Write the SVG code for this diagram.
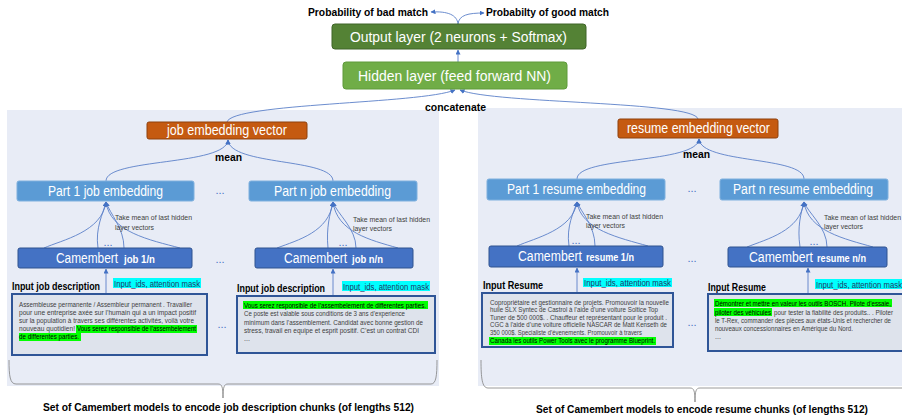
<svg xmlns="http://www.w3.org/2000/svg" width="902" height="420" viewBox="0 0 902 420">
<style>
text{font-family:"Liberation Sans",Arial,sans-serif}
.panel{fill:#e8ecf6}
.out{fill:#548235;stroke:#3f6428;stroke-width:1}
.hid{fill:#70ad47;stroke:#5e9a3a;stroke-width:1}
.vec{fill:#c55a11;stroke:#8f400c;stroke-width:1}
.part{fill:#5b9bd5;stroke:#7fb0de;stroke-width:1}
.cam{fill:#4472c4;stroke:#2f528f;stroke-width:1}
.inbox{fill:#dee3ec;stroke:#2f5597;stroke-width:2}
.wt{fill:#fff;font-size:14px}
.wb{fill:#fff;font-size:10px;font-weight:bold}
.lbl{fill:#000;font-size:10.5px;font-weight:bold}
.sm{fill:#404040;font-size:7px}
.bx{fill:#404040;font-size:7px}
.bk{fill:#000;font-size:7px}
.cy{fill:#00ffff}
.gr{fill:#00ff00}
.cyt{fill:#1f3864;font-size:9px}
.dots{fill:#4472c4;font-size:11px}
.con{fill:none;stroke:#5b80c8;stroke-width:0.9}
.brace{fill:none;stroke:#808080;stroke-width:0.8}
</style>
<defs>
<marker id="ah" viewBox="0 0 10 10" refX="9" refY="5" markerWidth="5" markerHeight="5" orient="auto" markerUnits="userSpaceOnUse">
<path d="M0,0 L10,5 L0,10 z" fill="#4472c4"/>
</marker>
</defs>

<g id="panels">
<rect class="panel" x="7" y="110" width="432" height="276"/>
<rect class="panel" x="478" y="108" width="424" height="278"/>
</g>

<g id="connectors">
<path class="con" d="M458,24 C457,15 448,11 431,12" marker-end="url(#ah)"/>
<path class="con" d="M458,24 C459,15 468,13 484,13" marker-end="url(#ah)"/>
<path class="con" d="M458,62 L458,50" marker-end="url(#ah)"/>
<path class="con" d="M227,122 C232,103 420,104 455,90" marker-end="url(#ah)"/>
<path class="con" d="M698,119 C694,101 495,104 460,90" marker-end="url(#ah)"/>
<path class="con" d="M106,181 C106,158 226,166 228,140" marker-end="url(#ah)"/>
<path class="con" d="M333,181 C333,158 230,166 228,140" marker-end="url(#ah)"/>
<path class="con" d="M577,179 C577,156 697,164 699,139" marker-end="url(#ah)"/>
<path class="con" d="M804,179 C804,156 701,164 699,139" marker-end="url(#ah)"/>
<path class="con" d="M44,248 C62,240 102,232 106,202" marker-end="url(#ah)"/>
<path class="con" d="M98,248 C95,228 103,214 106,202" marker-end="url(#ah)"/>
<path class="con" d="M124,248 C124,228 110,214 106,202" marker-end="url(#ah)"/>
<path class="con" d="M180,248 C150,240 110,232 106,202" marker-end="url(#ah)"/>
<path class="con" d="M277,248 C298,240 329,232 333,202" marker-end="url(#ah)"/>
<path class="con" d="M328,248 C326,228 330,214 333,202" marker-end="url(#ah)"/>
<path class="con" d="M356,248 C356,228 337,214 333,202" marker-end="url(#ah)"/>
<path class="con" d="M398,248 C370,240 337,232 333,202" marker-end="url(#ah)"/>
<path class="con" d="M517,246 C535,238 573,230 577,202" marker-end="url(#ah)"/>
<path class="con" d="M569,246 C566,226 574,212 577,202" marker-end="url(#ah)"/>
<path class="con" d="M595,246 C595,226 581,212 577,202" marker-end="url(#ah)"/>
<path class="con" d="M648,246 C620,238 581,230 577,202" marker-end="url(#ah)"/>
<path class="con" d="M747,247 C767,239 800,231 804,202" marker-end="url(#ah)"/>
<path class="con" d="M800,247 C797,227 801,213 804,202" marker-end="url(#ah)"/>
<path class="con" d="M827,247 C827,227 808,213 804,202" marker-end="url(#ah)"/>
<path class="con" d="M873,247 C845,239 808,231 804,202" marker-end="url(#ah)"/>
<path class="con" d="M106,294 L106,269" marker-end="url(#ah)"/>
<path class="con" d="M333,296 L333,269" marker-end="url(#ah)"/>
<path class="con" d="M577,293 L577,268" marker-end="url(#ah)"/>
<path class="con" d="M808,294 L808,268" marker-end="url(#ah)"/>
</g>

<g id="labels-top">
<text class="lbl" x="308" y="15.5" textLength="120" lengthAdjust="spacingAndGlyphs">Probability of bad match</text>
<text class="lbl" x="486" y="15.5" textLength="123" lengthAdjust="spacingAndGlyphs">Probabilty of good match</text>
<text class="lbl" x="425" y="111" textLength="61" lengthAdjust="spacingAndGlyphs">concatenate</text>
<text class="lbl" x="215" y="161" textLength="27" lengthAdjust="spacingAndGlyphs">mean</text>
<text class="lbl" x="683" y="158" textLength="27" lengthAdjust="spacingAndGlyphs">mean</text>
</g>

<g id="output-layer">
<rect class="out" x="332" y="24" width="254" height="25" rx="3"/>
<text class="wt" x="350" y="41.5" textLength="217" lengthAdjust="spacingAndGlyphs">Output layer (2 neurons + Softmax)</text>
</g>
<g id="hidden-layer">
<rect class="hid" x="343" y="62" width="224" height="27" rx="3"/>
<text class="wt" x="358" y="80.5" textLength="193" lengthAdjust="spacingAndGlyphs">Hidden layer (feed forward NN)</text>
</g>

<g id="job-embedding-vector">
<rect class="vec" x="147" y="122" width="160" height="17" rx="2"/>
<text class="wt" x="167" y="135" font-size="13" textLength="120" lengthAdjust="spacingAndGlyphs">job embedding vector</text>
</g>
<g id="resume-embedding-vector">
<rect class="vec" x="618" y="119" width="160" height="19" rx="2"/>
<text class="wt" x="627" y="133" font-size="13" textLength="143" lengthAdjust="spacingAndGlyphs">resume embedding vector</text>
</g>

<g id="part1-job">
<rect class="part" x="17" y="181" width="177" height="20" rx="2"/>
<text class="wt" x="48" y="195.5" font-size="13" textLength="115" lengthAdjust="spacingAndGlyphs">Part 1 job embedding</text>
</g>
<g id="partn-job">
<rect class="part" x="249" y="181" width="168" height="20" rx="2"/>
<text class="wt" x="274" y="195.5" font-size="13" textLength="117" lengthAdjust="spacingAndGlyphs">Part n job embedding</text>
</g>
<g id="part1-resume">
<rect class="part" x="487" y="179" width="178" height="21" rx="2"/>
<text class="wt" x="507" y="194" font-size="13" textLength="139" lengthAdjust="spacingAndGlyphs">Part 1 resume embedding</text>
</g>
<g id="partn-resume">
<rect class="part" x="720" y="179" width="168" height="21" rx="2"/>
<text class="wt" x="733" y="194" font-size="13" textLength="140" lengthAdjust="spacingAndGlyphs">Part n resume embedding</text>
</g>

<g id="camembert-job-1">
<rect class="cam" x="18" y="248" width="174" height="20" rx="2"/>
<text class="wt" x="56" y="262.5" font-size="13" textLength="62" lengthAdjust="spacingAndGlyphs">Camembert</text>
<text class="wb" x="124" y="262.5" textLength="31" lengthAdjust="spacingAndGlyphs">job 1/n</text>
</g>
<g id="camembert-job-n">
<rect class="cam" x="255" y="248" width="158" height="20" rx="2"/>
<text class="wt" x="284" y="262.5" font-size="13" textLength="63" lengthAdjust="spacingAndGlyphs">Camembert</text>
<text class="wb" x="352" y="262.5" textLength="31" lengthAdjust="spacingAndGlyphs">job n/n</text>
</g>
<g id="camembert-resume-1">
<rect class="cam" x="489" y="246" width="174" height="21" rx="2"/>
<text class="wt" x="518" y="261" font-size="13" textLength="64" lengthAdjust="spacingAndGlyphs">Camembert</text>
<text class="wb" x="586" y="261" textLength="48" lengthAdjust="spacingAndGlyphs">resume 1/n</text>
</g>
<g id="camembert-resume-n">
<rect class="cam" x="728" y="247" width="159" height="20" rx="2"/>
<text class="wt" x="749" y="261.5" font-size="13" textLength="64" lengthAdjust="spacingAndGlyphs">Camembert</text>
<text class="wb" x="817" y="261.5" textLength="49" lengthAdjust="spacingAndGlyphs">resume n/n</text>
</g>

<g id="annotations">
<text class="sm" x="115" y="219.5" textLength="77" lengthAdjust="spacingAndGlyphs">Take mean of last hidden</text>
<text class="sm" x="115" y="229.5" textLength="39" lengthAdjust="spacingAndGlyphs">layer vectors</text>
<text class="sm" x="353" y="221.5" textLength="77" lengthAdjust="spacingAndGlyphs">Take mean of last hidden</text>
<text class="sm" x="353" y="230.5" textLength="39" lengthAdjust="spacingAndGlyphs">layer vectors</text>
<text class="sm" x="586" y="218.5" textLength="77" lengthAdjust="spacingAndGlyphs">Take mean of last hidden</text>
<text class="sm" x="586" y="227.5" textLength="39" lengthAdjust="spacingAndGlyphs">layer vectors</text>
<text class="sm" x="824" y="219.5" textLength="77" lengthAdjust="spacingAndGlyphs">Take mean of last hidden</text>
<text class="sm" x="824" y="228.5" textLength="39" lengthAdjust="spacingAndGlyphs">layer vectors</text>
<text class="dots" x="220" y="194" text-anchor="middle">...</text>
<text class="dots" x="220" y="263" text-anchor="middle">...</text>
<text class="dots" x="222" y="328" text-anchor="middle">...</text>
<text class="dots" x="108" y="246" text-anchor="middle">...</text>
<text class="dots" x="343" y="246" text-anchor="middle">...</text>
<text class="dots" x="692" y="192" text-anchor="middle">...</text>
<text class="dots" x="692" y="262" text-anchor="middle">...</text>
<text class="dots" x="692" y="326" text-anchor="middle">...</text>
<text class="dots" x="576" y="244" text-anchor="middle">...</text>
<text class="dots" x="814" y="245" text-anchor="middle">...</text>
</g>

<g id="input-job-1">
<text class="lbl" x="12" y="290" font-size="10" textLength="88" lengthAdjust="spacingAndGlyphs">Input job description</text>
<rect class="cy" x="113" y="278" width="88" height="10"/>
<text class="cyt" x="114" y="286.5" textLength="86" lengthAdjust="spacingAndGlyphs">Input_ids, attention mask</text>
<rect class="inbox" x="12" y="294" width="195" height="61"/>
<rect class="gr" x="76" y="325" width="121" height="8"/>
<rect class="gr" x="19" y="333" width="62" height="8"/>
<text class="bx" x="19" y="306.5" textLength="173" lengthAdjust="spacingAndGlyphs">Assembleuse permanente / Assembleur permanent . Travailler</text>
<text class="bx" x="19" y="314.5" textLength="177" lengthAdjust="spacingAndGlyphs">pour une entreprise axée sur l’humain qui a un impact positif</text>
<text class="bx" x="19" y="322.5" textLength="175" lengthAdjust="spacingAndGlyphs">sur la population à travers ses différentes activités, voilà votre</text>
<text class="bx" x="19" y="330.5" textLength="56" lengthAdjust="spacingAndGlyphs">nouveau quotidien!</text>
<text class="bk" x="77" y="330.5" textLength="119" lengthAdjust="spacingAndGlyphs">Vous serez responsible de l’assembelement</text>
<text class="bk" x="19" y="338.5" textLength="60" lengthAdjust="spacingAndGlyphs">de differentes parties.</text>
</g>

<g id="input-job-n">
<text class="lbl" x="237" y="292" font-size="10" textLength="88" lengthAdjust="spacingAndGlyphs">Input job description</text>
<rect class="cy" x="342" y="281" width="88" height="10"/>
<text class="cyt" x="343" y="289.5" textLength="86" lengthAdjust="spacingAndGlyphs">Input_ids, attention mask</text>
<rect class="inbox" x="237" y="296" width="198" height="57"/>
<rect class="gr" x="243" y="301" width="185" height="8"/>
<text class="bk" x="244" y="307.5" textLength="182" lengthAdjust="spacingAndGlyphs">Vous serez responsible de l’assembelement de differentes parties.</text>
<text class="bx" x="244" y="316" textLength="161" lengthAdjust="spacingAndGlyphs">Ce poste est valable sous conditions de 3 ans d’experience</text>
<text class="bx" x="244" y="324.5" textLength="179" lengthAdjust="spacingAndGlyphs">minimum dans l’assemblement. Candidat avec bonne gestion de</text>
<text class="bx" x="244" y="333" textLength="175" lengthAdjust="spacingAndGlyphs">stress, travail en equipe et esprit positif. C’est un contrat CDI</text>
<text class="bx" x="244" y="341">...</text>
</g>

<g id="input-resume-1">
<text class="lbl" x="483" y="289" font-size="10" textLength="60" lengthAdjust="spacingAndGlyphs">Input Resume</text>
<rect class="cy" x="583" y="278" width="89" height="9"/>
<text class="cyt" x="584" y="286" textLength="87" lengthAdjust="spacingAndGlyphs">Input_ids, attention mask</text>
<rect class="inbox" x="482" y="293" width="191" height="54"/>
<rect class="gr" x="489" y="337" width="167" height="8"/>
<text class="bx" x="490" y="304.5" textLength="179" lengthAdjust="spacingAndGlyphs">Copropriétaire et gestionnaire de projets. Promouvoir la nouvelle</text>
<text class="bx" x="490" y="312" textLength="168" lengthAdjust="spacingAndGlyphs">huile SLX Syntec de Castrol à l’aide d’une voiture Soltice Top</text>
<text class="bx" x="490" y="319.5" textLength="177" lengthAdjust="spacingAndGlyphs">Tuner de 500 000$. . Chauffeur et représentant pour le produit .</text>
<text class="bx" x="490" y="327" textLength="177" lengthAdjust="spacingAndGlyphs">CGC à l’aide d’une voiture officielle NASCAR de Matt Kenseth de</text>
<text class="bx" x="490" y="334.5" textLength="152" lengthAdjust="spacingAndGlyphs">350 000$. Specialiste d’évenements. Promouvoir à travers</text>
<text class="bk" x="490" y="343" textLength="165" lengthAdjust="spacingAndGlyphs">Canada les outils Power Tools avec le programme Blueprint.</text>
</g>

<g id="input-resume-n">
<text class="lbl" x="708" y="291" font-size="10" textLength="58" lengthAdjust="spacingAndGlyphs">Input Resume</text>
<rect class="cy" x="815" y="279" width="92" height="10"/>
<text class="cyt" x="816" y="287.5" textLength="86" lengthAdjust="spacingAndGlyphs">Input_ids, attention mask</text>
<rect class="inbox" x="708" y="294" width="200" height="57"/>
<rect class="gr" x="714" y="299" width="178" height="8"/>
<rect class="gr" x="714" y="308" width="58" height="8"/>
<text class="bk" x="715" y="305.5" textLength="176" lengthAdjust="spacingAndGlyphs">Démontrer et mettre en valeur les outils BOSCH. Pilote d’essaie,</text>
<text class="bk" x="715" y="314.5" textLength="56" lengthAdjust="spacingAndGlyphs">piloter des véhicules</text>
<text class="bx" x="774" y="314.5" textLength="119" lengthAdjust="spacingAndGlyphs">pour tester la fiabilité des produits.. . Piloter</text>
<text class="bx" x="715" y="322.5" textLength="176" lengthAdjust="spacingAndGlyphs">le T-Rex, commander des pièces aux états-Unis et rechercher de</text>
<text class="bx" x="715" y="330.5" textLength="138" lengthAdjust="spacingAndGlyphs">nouveaux concessionnaires en Amérique du Nord.</text>
<text class="bx" x="715" y="339">...</text>
</g>

<g id="brace-job">
<path class="brace" d="M9,360 C9,376 10,384 16,384 L218,384 C222,384 223,387 223,398 C223,387 224,384 228,384 L431,384 C436,384 437,376 437,360"/>
<text class="lbl" x="43" y="411" textLength="371" lengthAdjust="spacingAndGlyphs">Set of Camembert models to encode job description chunks (of lengths 512)</text>
</g>
<g id="brace-resume">
<path class="brace" d="M481,360 C481,378 482,388 488,388 L690,388 C694,388 695,391 695,402 C695,391 696,388 700,388 L902,388"/>
<text class="lbl" x="536" y="413" textLength="332" lengthAdjust="spacingAndGlyphs">Set of Camembert models to encode resume chunks (of lengths 512)</text>
</g>
</svg>
